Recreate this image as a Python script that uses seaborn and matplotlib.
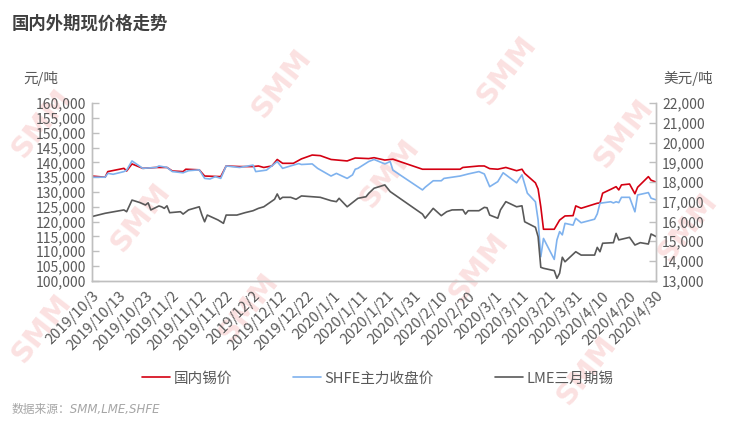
import pandas as pd
import matplotlib.pyplot as plt
import seaborn as sns

# -------------------------------
# Data
# -------------------------------
cn_dates = ["2019-10-03", "2019-10-08", "2019-10-09", "2019-10-15", "2019-10-16", "2019-10-18",
            "2019-10-22", "2019-10-27", "2019-10-31", "2019-11-02", "2019-11-06", "2019-11-07",
            "2019-11-12", "2019-11-14", "2019-11-20", "2019-11-22", "2019-11-27", "2019-12-02",
            "2019-12-04", "2019-12-06", "2019-12-09", "2019-12-11", "2019-12-13", "2019-12-17",
            "2019-12-20", "2019-12-24", "2019-12-27", "2019-12-31", "2020-01-06", "2020-01-09",
            "2020-01-14", "2020-01-16", "2020-01-20", "2020-01-23", "2020-02-03", "2020-02-17",
            "2020-02-18", "2020-02-24", "2020-02-26", "2020-02-28", "2020-03-02", "2020-03-05",
            "2020-03-09", "2020-03-11", "2020-03-12", "2020-03-16", "2020-03-17", "2020-03-18",
            "2020-03-19", "2020-03-23", "2020-03-25", "2020-03-27", "2020-03-30", "2020-03-31",
            "2020-04-02", "2020-04-08", "2020-04-09", "2020-04-10", "2020-04-13", "2020-04-15",
            "2020-04-16", "2020-04-17", "2020-04-20", "2020-04-22", "2020-04-23", "2020-04-27",
            "2020-04-28", "2020-04-30"]
cn_spot = [135400, 135000, 136900, 138000, 137100, 139500,
           138000, 138300, 138300, 137100, 136900, 137700,
           137500, 135400, 135200, 138800, 138600, 138600,
           138800, 138300, 138800, 141000, 139700, 139700,
           141200, 142500, 142300, 141000, 140500, 141500,
           141300, 141600, 140800, 141100, 137700, 137700,
           138300, 138800, 138800, 137900, 137700, 138300,
           137200, 137700, 136300, 133100, 131000, 125000,
           117400, 117400, 120500, 121900, 122000, 125300,
           124500, 126200, 126300, 129600, 130900, 131800,
           130700, 132400, 132700, 129400, 131600, 135200,
           134000, 133300]

shfe_dates = ["2019-10-03", "2019-10-08", "2019-10-09", "2019-10-11", "2019-10-15", "2019-10-16",
              "2019-10-18", "2019-10-22", "2019-10-27", "2019-10-28", "2019-10-31", "2019-11-02",
              "2019-11-06", "2019-11-08", "2019-11-12", "2019-11-14", "2019-11-16", "2019-11-18",
              "2019-11-20", "2019-11-22", "2019-11-27", "2019-12-02", "2019-12-03", "2019-12-07",
              "2019-12-11", "2019-12-13", "2019-12-17", "2019-12-19", "2019-12-20", "2019-12-24",
              "2019-12-26", "2019-12-31", "2020-01-02", "2020-01-06", "2020-01-08", "2020-01-09",
              "2020-01-10", "2020-01-14", "2020-01-16", "2020-01-20", "2020-01-22", "2020-01-23",
              "2020-02-03", "2020-02-04", "2020-02-07", "2020-02-10", "2020-02-11", "2020-02-17",
              "2020-02-20", "2020-02-24", "2020-02-26", "2020-02-28", "2020-03-02", "2020-03-04",
              "2020-03-09", "2020-03-11", "2020-03-13", "2020-03-16", "2020-03-17", "2020-03-18",
              "2020-03-19", "2020-03-23", "2020-03-24", "2020-03-25", "2020-03-26", "2020-03-27",
              "2020-03-30", "2020-03-31", "2020-04-02", "2020-04-07", "2020-04-08", "2020-04-09",
              "2020-04-13", "2020-04-14", "2020-04-15", "2020-04-16", "2020-04-17", "2020-04-20",
              "2020-04-22", "2020-04-23", "2020-04-27", "2020-04-28", "2020-04-30"]
shfe_close = [135000, 135000, 136300, 136000, 136900, 137400,
              140500, 138000, 138300, 138800, 138300, 136900,
              136500, 137200, 137500, 134600, 134400, 135200,
              134600, 138800, 138300, 139100, 136900, 137400,
              140300, 138000, 139100, 139600, 139300, 139500,
              138000, 135400, 136300, 134600, 135800, 137700,
              138000, 140300, 141000, 139500, 140300, 137400,
              130700, 131600, 133800, 133800, 134600, 135400,
              136100, 136900, 136100, 131800, 133500, 136500,
              133100, 135800, 129600, 126700, 120500, 108100,
              114300, 107200, 113800, 116600, 115500, 119400,
              118800, 121100, 119600, 120800, 122600, 126200,
              126700, 126300, 126700, 126400, 128200, 128200,
              123300, 129000, 129800, 127900, 127300]

lme_dates = ["2019-10-03", "2019-10-08", "2019-10-15", "2019-10-16", "2019-10-18", "2019-10-21",
             "2019-10-23", "2019-10-24", "2019-10-25", "2019-10-28", "2019-10-29", "2019-10-30",
             "2019-10-31", "2019-11-01", "2019-11-05", "2019-11-06", "2019-11-08", "2019-11-12",
             "2019-11-13", "2019-11-14", "2019-11-15", "2019-11-19", "2019-11-21", "2019-11-22",
             "2019-11-26", "2019-11-29", "2019-12-02", "2019-12-04", "2019-12-06", "2019-12-10",
             "2019-12-11", "2019-12-12", "2019-12-13", "2019-12-16", "2019-12-18", "2019-12-20",
             "2019-12-24", "2019-12-27", "2019-12-31", "2020-01-02", "2020-01-03", "2020-01-06",
             "2020-01-10", "2020-01-13", "2020-01-14", "2020-01-16", "2020-01-20", "2020-01-22",
             "2020-02-03", "2020-02-04", "2020-02-07", "2020-02-10", "2020-02-12", "2020-02-14",
             "2020-02-18", "2020-02-19", "2020-02-20", "2020-02-24", "2020-02-26", "2020-02-27",
             "2020-02-28", "2020-03-02", "2020-03-03", "2020-03-05", "2020-03-09", "2020-03-11",
             "2020-03-12", "2020-03-16", "2020-03-17", "2020-03-18", "2020-03-19", "2020-03-23",
             "2020-03-24", "2020-03-25", "2020-03-26", "2020-03-27", "2020-03-31", "2020-04-02",
             "2020-04-07", "2020-04-08", "2020-04-09", "2020-04-10", "2020-04-14", "2020-04-15",
             "2020-04-16", "2020-04-20", "2020-04-22", "2020-04-24", "2020-04-27", "2020-04-28",
             "2020-04-30"]
lme_3m = [16250, 16420, 16590, 16500, 17090, 16960,
          16840, 16950, 16590, 16790, 16750, 16670,
          16800, 16450, 16500, 16380, 16590, 16750,
          16330, 15990, 16330, 16080, 15910, 16330,
          16330, 16450, 16550, 16670, 16750, 17130,
          17400, 17130, 17230, 17230, 17130, 17300,
          17260, 17230, 17060, 17010, 17180, 16750,
          17180, 17260, 17430, 17690, 17860, 17520,
          16380, 16170, 16670, 16300, 16500, 16590,
          16600, 16380, 16550, 16550, 16720, 16700,
          16330, 16170, 16590, 17010, 16750, 16800,
          15990, 15710, 15230, 13680, 13630, 13510,
          13120, 13380, 14190, 13960, 14470, 14300,
          14300, 14690, 14470, 14900, 14930, 15400,
          15070, 15200, 14810, 14930, 14860, 15370,
          15230]

tick_dates = pd.date_range("2019-10-03", "2020-04-30", freq="10D")
series_names = ["国内锡价", "SHFE主力收盘价", "LME三月期锡"]

df_cn = pd.DataFrame({"date": pd.to_datetime(cn_dates), "price": cn_spot})
df_shfe = pd.DataFrame({"date": pd.to_datetime(shfe_dates), "price": shfe_close})
df_lme = pd.DataFrame({"date": pd.to_datetime(lme_dates), "price": lme_3m})

# -------------------------------
# Plot
# -------------------------------
sns.set_theme(style="white")
plt.rcParams['font.family'] = ['Noto Sans CJK SC', 'DejaVu Sans']

red, blue, grey = "#d40012", "#7fb2ee", "#595959"
text_c = "#595959"
spine_c = "#bfbfbf"

fig = plt.figure(figsize=(7.31, 4.23), dpi=100)

# faint SMM watermarks behind the chart
for wx, wy in [(282, 83), (507, 70), (624, 133), (390, 173), (141, 217),
               (479, 267), (249, 307), (42, 123), (688, 227), (587, 370), (42, 328)]:
    fig.text(wx / 731, 1 - wy / 423, "SMM", fontsize=21, fontweight="bold",
             color="#fbe1e1", rotation=52, ha="center", va="center", zorder=-5,
             family="DejaVu Sans")

ax = fig.add_axes([0.1254, 0.3364, 0.7726, 0.4194])
ax2 = ax.twinx()
ax.patch.set_alpha(0)
ax2.patch.set_alpha(0)

sns.lineplot(data=df_cn, x="date", y="price", ax=ax, color=red, linewidth=1.2)
sns.lineplot(data=df_shfe, x="date", y="price", ax=ax, color=blue, linewidth=1.2)
sns.lineplot(data=df_lme, x="date", y="price", ax=ax2, color=grey, linewidth=1.2)

ax.set_xlim(tick_dates[0], tick_dates[-1])
ax.set_ylim(100000, 160000)
ax.set_yticks(range(100000, 160001, 5000))
ax.set_yticklabels([f"{v:,}" for v in range(100000, 160001, 5000)])
ax2.set_ylim(13000, 22000)
ax2.set_yticks(range(13000, 22001, 1000))
ax2.set_yticklabels([f"{v:,}" for v in range(13000, 22001, 1000)])

ax.set_xticks(tick_dates)
ax.set_xticklabels([f"{d.year}/{d.month}/{d.day}" for d in tick_dates],
                   rotation=45, ha="right", rotation_mode="anchor")

for a in (ax, ax2):
    a.set_xlabel("")
    a.set_ylabel("")
    a.grid(False)
    for s in a.spines.values():
        s.set_color(spine_c)
        s.set_linewidth(1.0)
    a.spines["top"].set_visible(False)
    a.tick_params(axis="both", direction="in", length=5, width=1.0, color=spine_c,
                  labelsize=10, labelcolor=text_c, pad=4)
ax.tick_params(axis="x", labelsize=10.5, pad=6)

# unit labels
fig.text(0.0315, 0.815, "元/吨", fontsize=10.5, color=text_c, va="center")
fig.text(0.908, 0.815, "美元/吨", fontsize=10.5, color=text_c, va="center")

# title and source
fig.text(0.016, 0.945, "国内外期现价格走势", fontsize=12.5, fontweight="bold",
         color="#404040", va="center")
fig.text(0.016, 0.031, "数据来源：SMM,LME,SHFE", fontsize=8.5, style="italic",
         color="#a6a6a6", va="center", family=["DejaVu Sans", "Noto Sans CJK SC"])

# legend
handles = [plt.Line2D([], [], color=c, linewidth=1.2) for c in (red, blue, grey)]
fig.legend(handles, series_names, loc="center",
           bbox_to_anchor=(0.517, 0.105), ncol=3, frameon=False, fontsize=10.5,
           labelcolor=text_c, handlelength=1.9, handletextpad=0.25, columnspacing=4.2)

fig.savefig("out.png", dpi=100)
